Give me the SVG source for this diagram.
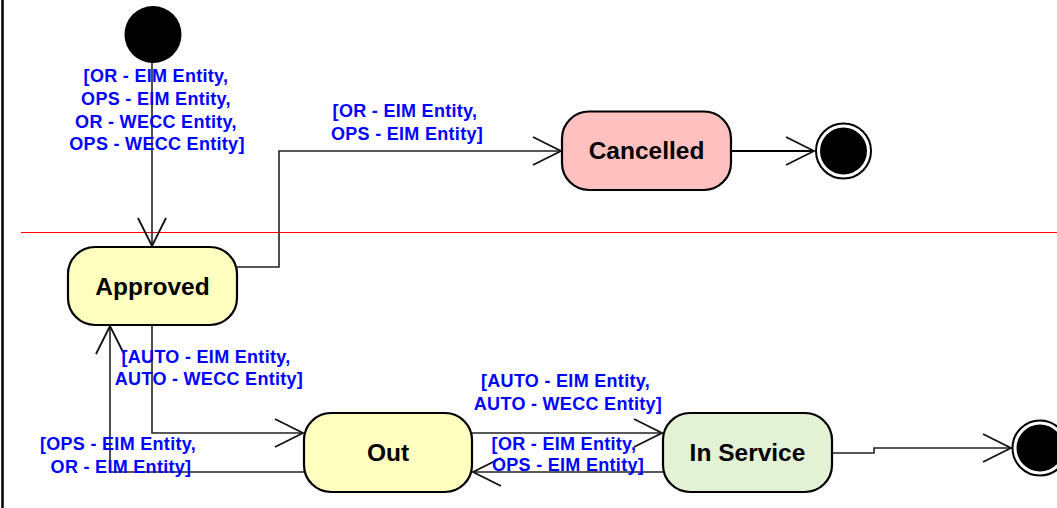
<svg xmlns="http://www.w3.org/2000/svg" width="1057" height="508" viewBox="0 0 1057 508">
<style>
.node{stroke:#000;stroke-width:2.2}
.name{font-family:"Liberation Sans",Arial,sans-serif;font-weight:bold;font-size:24.5px;fill:#000;text-anchor:middle}
.lbl{font-family:"Liberation Sans",Arial,sans-serif;font-weight:bold;font-size:18px;fill:#0000ff;text-anchor:middle;letter-spacing:0.3px}
.edge{fill:none;stroke:#222;stroke-width:1.6;marker-end:url(#arr)}
</style>
<defs>
<marker id="arr" markerUnits="userSpaceOnUse" viewBox="-30 -16 32 32" refX="0" refY="0" markerWidth="32" markerHeight="32" orient="auto">
<path d="M-28,-14 L0,0 L-28,14" fill="none" stroke="#111" stroke-width="1.8"/>
</marker>
</defs>
<rect width="1057" height="508" fill="#fff"/>
<line x1="2.5" y1="0" x2="2.5" y2="508" stroke="#000" stroke-width="2.5"/>
<line x1="21" y1="232.5" x2="1057" y2="232.5" stroke="#ff0000" stroke-width="1"/>
<g id="connectors">
<path class="edge" d="M152,63 L152,246"/>
<path class="edge" d="M237,267 L279,267 L279,151 L561,151"/>
<path class="edge" d="M731,151 L814,151" style="stroke:#000;stroke-width:2"/>
<path class="edge" d="M152,325 L152,433 L303,433"/>
<path class="edge" d="M304,472 L110,472 L110,326"/>
<path class="edge" d="M472,433 L662,433"/>
<path class="edge" d="M663,472 L473,472"/>
<path class="edge" d="M832,453 L874,453 L874,448 L1011,448"/>
</g>
<g id="labels">
<text class="lbl"><tspan x="156" y="82">[OR - EIM Entity,</tspan><tspan x="156" y="105">OPS - EIM Entity,</tspan><tspan x="156" y="127.5">OR - WECC Entity,</tspan><tspan x="157" y="150">OPS - WECC Entity]</tspan></text>
<text class="lbl"><tspan x="405" y="117">[OR - EIM Entity,</tspan><tspan x="407" y="140">OPS - EIM Entity]</tspan></text>
<text class="lbl"><tspan x="206" y="363">[AUTO - EIM Entity,</tspan><tspan x="209" y="385">AUTO - WECC Entity]</tspan></text>
<text class="lbl"><tspan x="118" y="450">[OPS - EIM Entity,</tspan><tspan x="121" y="472.5">OR - EIM Entity]</tspan></text>
<text class="lbl"><tspan x="565.5" y="387">[AUTO - EIM Entity,</tspan><tspan x="568" y="410">AUTO - WECC Entity]</tspan></text>
<text class="lbl"><tspan x="564" y="450">[OR - EIM Entity,</tspan><tspan x="568" y="471">OPS - EIM Entity]</tspan></text>
</g>
<g id="initial"><circle cx="153" cy="34.5" r="28.5" fill="#000"/></g>
<g id="approved"><rect class="node" x="68" y="247" width="169" height="78" rx="27" fill="#ffffc0"/><text class="name" x="152.5" y="294.5">Approved</text></g>
<g id="cancelled"><rect class="node" x="562" y="111.5" width="169" height="78.5" rx="27" fill="#ffc0c0"/><text class="name" x="646.5" y="159">Cancelled</text></g>
<g id="out"><rect class="node" x="304" y="413" width="168" height="79" rx="27" fill="#ffffc0"/><text class="name" x="388" y="460.5">Out</text></g>
<g id="inservice"><rect class="node" x="663" y="413" width="169" height="79" rx="27" fill="#e3f1d5"/><text class="name" x="747.5" y="460.5">In Service</text></g>
<g id="final1"><circle cx="843.5" cy="151" r="27.5" fill="#fff" stroke="#000" stroke-width="2"/><circle cx="843.5" cy="151" r="23.5" fill="#000"/></g>
<g id="final2"><circle cx="1040" cy="448" r="27.5" fill="#fff" stroke="#000" stroke-width="2"/><circle cx="1040" cy="448" r="23.5" fill="#000"/></g>
</svg>
